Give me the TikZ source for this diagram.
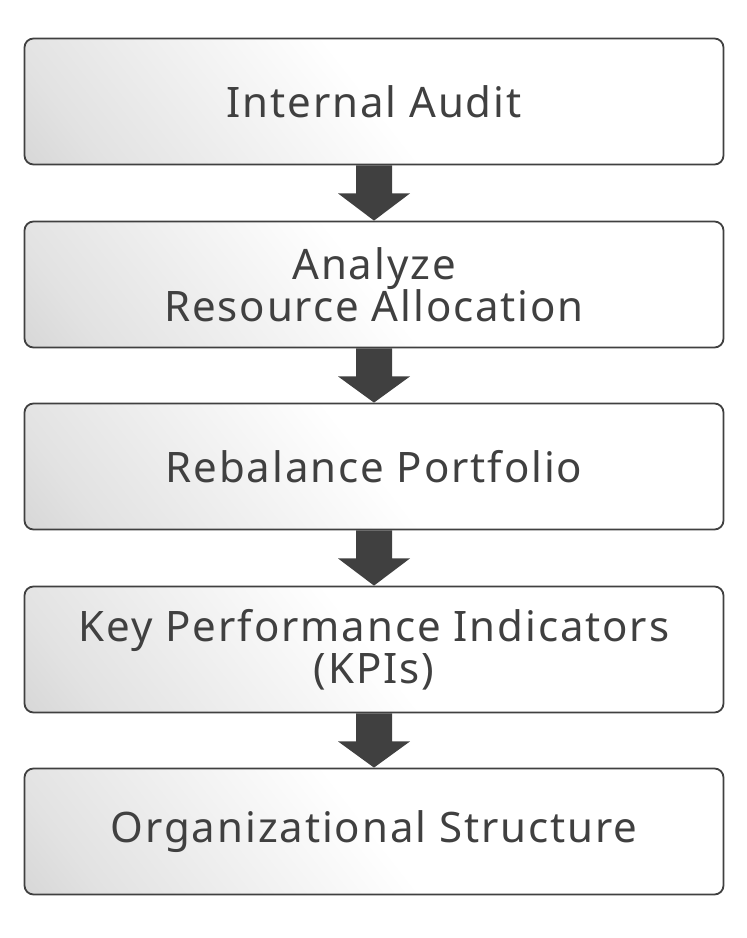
\documentclass[tikz,border=0pt]{standalone}
\usepackage{fontspec}
\setmainfont[LetterSpace=4.5]{Noto Sans}
\definecolor{ink}{HTML}{404040}
\definecolor{shadeg}{HTML}{C0C0C0}
\definecolor{shadem}{HTML}{E2E2E2}
\pgfdeclarehorizontalshading{boxshade}{100bp}{color(0bp)=(shadeg); color(22bp)=(shadem); color(50bp)=(white); color(100bp)=(white)}
\begin{document}
\begin{tikzpicture}[x=1pt,y=-1pt,
  stepbox/.style={draw=ink, line width=1.8pt, rounded corners=9pt, minimum width=699pt, minimum height=126pt,
    shading=boxshade, shading angle=38, text=ink, font=\fontsize{42}{42}\selectfont, align=center, inner sep=0pt},
  flowarrow/.style={fill=ink, draw=none}]
\useasboundingbox (0,0) rectangle (747,938);
\node[stepbox] (a) at (374,101.5) {Internal Audit};
\node[stepbox] (b) at (374,284.5) {Analyze\\Resource Allocation};
\node[stepbox] (c) at (374,466.5) {Rebalance Portfolio};
\node[stepbox] (d) at (374,649.5) {Key Performance Indicators\\(KPIs)};
\node[stepbox] (e) at (374,831.5) {Organizational Structure};
\foreach \u/\v in {a/b,b/c,c/d,d/e}{
  \fill[flowarrow] ([xshift=-18pt]\u.south) -- ([xshift=-18pt,yshift=-28pt]\u.south) -- ([xshift=-36pt,yshift=-28pt]\u.south)
    -- (\v.north) -- ([xshift=36pt,yshift=-28pt]\u.south) -- ([xshift=18pt,yshift=-28pt]\u.south) -- ([xshift=18pt]\u.south) -- cycle;
}
\end{tikzpicture}
\end{document}
